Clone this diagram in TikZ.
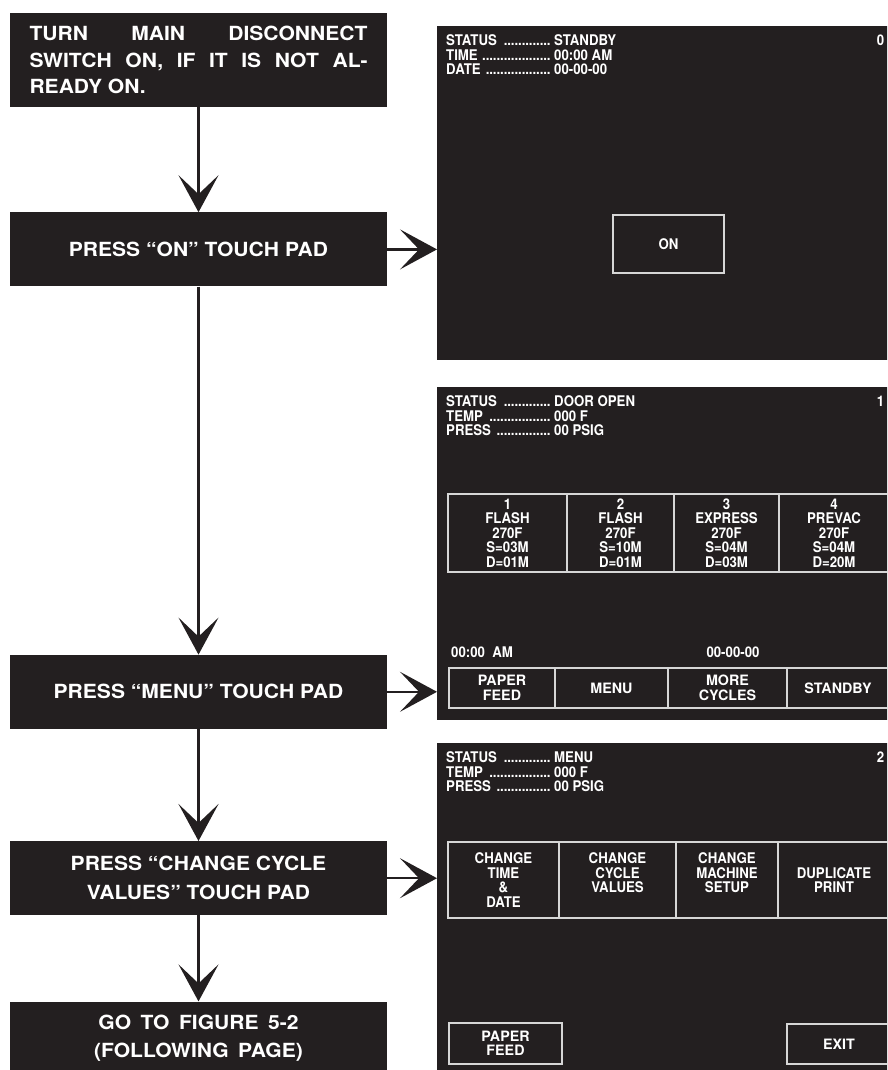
\documentclass[tikz,border=0pt]{standalone}
\usepackage{fontspec}
\setmainfont{TeX Gyre Heros}
\newfontfamily\boxfam[FakeStretch=1.08]{TeX Gyre Heros}
\newfontfamily\scrfam[FakeStretch=0.9]{TeX Gyre Heros}
\usetikzlibrary{arrows.meta,positioning}
\definecolor{boxblack}{HTML}{231F20}
\definecolor{padgray}{HTML}{D6D6D6}
\newcommand{\scrrow}[2]{\makebox[105pt][l]{#1\ \leaders\hbox to 3.6pt{\hss.\hss}\hfill}\hspace{3pt}#2}
\newcommand{\widesp}{\hspace{9.5pt}}

\begin{document}
\begin{tikzpicture}[x=1pt, y=-1pt, >={Stealth[length=37pt, width=40pt, inset=19pt]},
    stepbox/.style={fill=boxblack, text=white, minimum width=377pt, minimum height=74pt, inner sep=0pt, align=center,
      font=\boxfam\bfseries\fontsize{19.5}{29}\selectfont},
    screen/.style={fill=boxblack, minimum width=470pt, inner sep=0pt, anchor=north west},
    readout/.style={text=white, inner sep=0pt, align=left, anchor=north west, font=\scrfam\bfseries\fontsize{14.7}{14.5}\selectfont},
    cell/.style={draw=padgray, line width=1.3pt, text=white, inner sep=0pt, align=center, font=\scrfam\bfseries\fontsize{14.7}{14.5}\selectfont},
    pad/.style={cell, font=\bfseries\fontsize{14.3}{14.5}\selectfont},
    flow/.style={->, line width=2.2pt, draw=boxblack}]
  \clip (0,0) rectangle (887,1070);
  \node[stepbox, minimum height=94pt, align=left, font=\boxfam\bfseries\fontsize{19.5}{26.5}\selectfont] (turn) at (198.5,60)
    {\makebox[338pt][s]{TURN MAIN DISCONNECT}\\\makebox[338pt][s]{SWITCH ON, IF IT IS NOT AL-}\\\makebox[338pt][l]{READY ON.}};
  \node[stepbox, below=105pt of turn] (onpad) {PRESS “ON” TOUCH PAD};
  \node[stepbox, below=368pt of onpad] (menupad) {PRESS “MENU” TOUCH PAD};
  \node[stepbox, below=112pt of menupad] (cyclepad) {PRESS “CHANGE CYCLE\\VALUES” TOUCH PAD};
  \node[stepbox, below=86pt of cyclepad, font=\boxfam\bfseries\fontsize{19.5}{28}\selectfont] (goto)
    {GO\widesp TO\widesp FIGURE\widesp 5-2\\(FOLLOWING\widesp PAGE)};

  \node[screen, minimum height=334pt] (standbyscr) at (437,26) {};
  \node[screen, minimum height=333pt] (cyclescr) at (437,387) {};
  \node[screen, minimum height=340pt] (menuscr) at (437,743) {};

  \node[readout] (standbyinfo) at (446,34.7) {\scrrow{STATUS}{STANDBY}\\\scrrow{TIME}{00:00 AM}\\\scrrow{DATE}{00-00-00}};
  \node[readout, anchor=north east] (standbyno) at (884.5,34.7) {0};
  \node[cell, minimum width=111pt, minimum height=58pt] (onkey) at (668.5,244) {ON};

  \node[readout] (cycleinfo) at (446,395.7) {\scrrow{STATUS}{DOOR OPEN}\\\scrrow{TEMP}{000 F}\\\scrrow{PRESS}{00 PSIG}};
  \node[readout, anchor=north east] (cycleno) at (884.5,395.7) {1};
  \node[cell, minimum width=119pt, minimum height=78pt] (flash1) at (507.5,533) {1\\FLASH\\270F\\S=03M\\D=01M};
  \node[cell, minimum width=107pt, minimum height=78pt] (flash2) at (620.5,533) {2\\FLASH\\270F\\S=10M\\D=01M};
  \node[cell, minimum width=105pt, minimum height=78pt] (express) at (726.5,533) {3\\EXPRESS\\270F\\S=04M\\D=03M};
  \node[cell, minimum width=110pt, minimum height=78pt] (prevac) at (834,533) {4\\PREVAC\\270F\\S=04M\\D=20M};
  \node[readout, anchor=west] (clock) at (451,652) {00:00\ \ AM};
  \node[readout, anchor=center] (today) at (733,652) {00-00-00};
  \node[pad, minimum width=106pt, minimum height=40pt] (paper1) at (502,688) {PAPER\\FEED};
  \node[pad, minimum width=113pt, minimum height=40pt] (menukey) at (611.5,688) {MENU};
  \node[pad, minimum width=119pt, minimum height=40pt] (morekey) at (727.5,688) {MORE\\CYCLES};
  \node[pad, minimum width=102pt, minimum height=40pt] (standbykey) at (838,688) {STANDBY};

  \node[readout] (menuinfo) at (446,751.7) {\scrrow{STATUS}{MENU}\\\scrrow{TEMP}{000 F}\\\scrrow{PRESS}{00 PSIG}};
  \node[readout, anchor=north east] (menuno) at (884.5,751.7) {2};
  \node[cell, minimum width=111pt, minimum height=76pt] (timekey) at (503.5,880) {CHANGE\\TIME\\\&\\DATE};
  \node[cell, minimum width=117pt, minimum height=76pt] (valueskey) at (617.5,880) {CHANGE\\CYCLE\\VALUES\\\mbox{}};
  \node[cell, minimum width=102pt, minimum height=76pt] (setupkey) at (727,880) {CHANGE\\MACHINE\\SETUP\\\mbox{}};
  \node[cell, minimum width=112pt, minimum height=76pt] (printkey) at (834,880) {DUPLICATE\\PRINT};
  \node[pad, minimum width=113pt, minimum height=41pt] (paper2) at (505.5,1043.5) {PAPER\\FEED};
  \node[pad, minimum width=104pt, minimum height=40pt] (exitkey) at (839,1044) {EXIT};

  \draw[flow] (turn) -- (onpad);
  \draw[flow] (onpad) -- (menupad);
  \draw[flow] (menupad) -- (cyclepad);
  \draw[flow] (cyclepad) -- (goto);
  \draw[flow] (onpad) -- (onpad -| standbyscr.west);
  \draw[flow] (menupad) -- (menupad -| cyclescr.west);
  \draw[flow] (cyclepad) -- (cyclepad -| menuscr.west);
\end{tikzpicture}
\end{document}
